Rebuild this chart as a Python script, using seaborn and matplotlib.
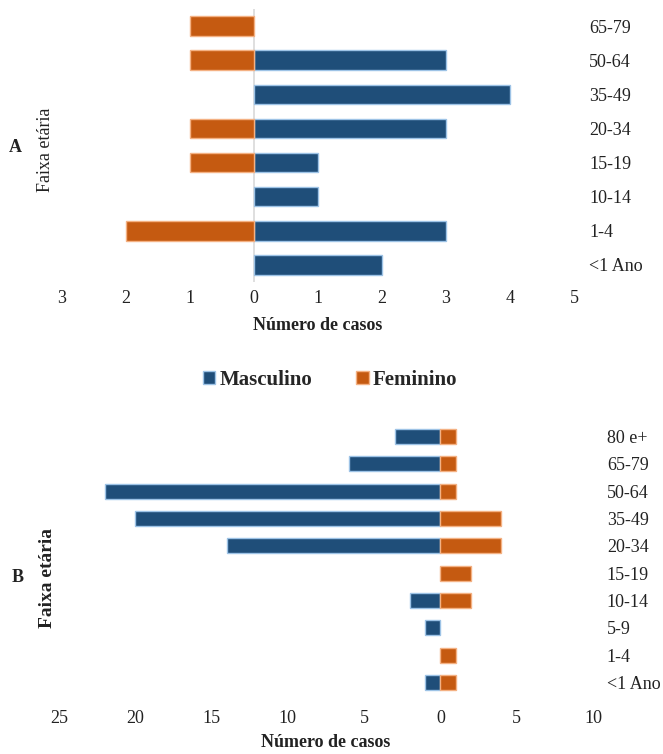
import matplotlib
matplotlib.use("Agg")
import matplotlib.pyplot as plt
import matplotlib.ticker as mticker
from matplotlib.patches import Patch
import seaborn as sns
import pandas as pd

sns.set_theme(style="white")
plt.rcParams['font.family'] = ['Liberation Serif', 'DejaVu Serif']

# ---- data ----
faixas_a = ["65-79", "50-64", "35-49", "20-34", "15-19", "10-14", "1-4", "<1 Ano"]
masc_a = [0, 3, 4, 3, 1, 1, 3, 2]
fem_a = [1, 1, 0, 1, 1, 0, 2, 0]

faixas_b = ["80 e+", "65-79", "50-64", "35-49", "20-34", "15-19", "10-14", "5-9", "1-4", "<1 Ano"]
masc_b = [3, 6, 22, 20, 14, 0, 2, 1, 0, 1]
fem_b = [1, 1, 1, 4, 4, 2, 2, 0, 1, 1]

ticks_a = [-3, -2, -1, 0, 1, 2, 3, 4, 5]
ticks_b = [-25, -20, -15, -10, -5, 0, 5, 10]

BLUE = "#1F4E79"
ORANGE = "#C55A11"
BLUE_EDGE = "#9DC3E6"
ORANGE_EDGE = "#F4B183"

fig = plt.figure(figsize=(6.63, 7.54), dpi=100)

def long_df(faixas, masc, fem, masc_sign, fem_sign):
    rows = []
    for f, m, w in zip(faixas, masc, fem):
        rows.append({"faixa": f, "valor": masc_sign * m, "sexo": "Masculino"})
        rows.append({"faixa": f, "valor": fem_sign * w, "sexo": "Feminino"})
    return pd.DataFrame(rows)

def draw(ax, df, faixas, ticks, bar_w, zero_line, tick_pad, label_pad, ypad):
    sns.barplot(data=df, y="faixa", x="valor", hue="sexo", order=faixas,
                hue_order=["Masculino", "Feminino"],
                palette={"Masculino": BLUE, "Feminino": ORANGE},
                dodge=False, width=bar_w, orient="h", ax=ax, legend=False,
                saturation=1, linewidth=1.0)
    blue_r = int(BLUE[1:3], 16) / 255
    for p in ax.patches:
        if abs(p.get_width()) < 1e-9:
            p.set_visible(False)
            continue
        fc = p.get_facecolor()
        p.set_edgecolor(BLUE_EDGE if abs(fc[0] - blue_r) < 0.05 else ORANGE_EDGE)
    ax.set_xlim(ticks[0], ticks[-1])
    ax.set_ylim(len(faixas) - 0.5, -0.5)
    ax.set_xticks(ticks)
    ax.xaxis.set_major_formatter(mticker.FuncFormatter(lambda v, p: f"{abs(int(round(v)))}"))
    ax.yaxis.tick_right()
    ax.tick_params(axis="both", length=0, labelsize=13, colors="#222222")
    ax.tick_params(axis="x", pad=tick_pad)
    ax.tick_params(axis="y", pad=ypad)
    for s in ax.spines.values():
        s.set_visible(False)
    if zero_line:
        ax.axvline(0, color="#D9D9D9", lw=1.2, zorder=0.5)
    ax.set_ylabel("")
    ax.set_xlabel("Número de casos", fontsize=13, fontweight="bold", color="#222222", labelpad=label_pad)
    ax.grid(False)

# Panel A: feminino left, masculino right
axA = fig.add_axes([62 / 663, 1 - 282 / 754, 512 / 663, 273 / 754])
dfA = long_df(faixas_a, masc_a, fem_a, 1, -1)
draw(axA, dfA, faixas_a, ticks_a, 0.57, True, 6, 7, 11)

# Panel B: masculino left, feminino right
axB = fig.add_axes([59 / 663, 1 - 696 / 754, 534 / 663, 273 / 754])
dfB = long_df(faixas_b, masc_b, fem_b, -1, 1)
draw(axB, dfB, faixas_b, ticks_b, 0.55, False, 10, 5, 10)

fig.text(15 / 663, 1 - 148 / 754, "A", fontsize=13, fontweight="bold", ha="center", va="center", color="#222222")
fig.text(45 / 663, 1 - 150 / 754, "Faixa etária", fontsize=13, rotation=90, ha="center", va="center", color="#222222")
fig.text(18 / 663, 1 - 577 / 754, "B", fontsize=13, fontweight="bold", ha="center", va="center", color="#222222")
fig.text(47 / 663, 1 - 578 / 754, "Faixa etária", fontsize=14, fontweight="bold", rotation=90, ha="center", va="center", color="#222222")

handles = [Patch(facecolor=BLUE, edgecolor=BLUE_EDGE, label="Masculino"),
           Patch(facecolor=ORANGE, edgecolor=ORANGE_EDGE, label="Feminino")]
fig.legend(handles=handles, loc="center", bbox_to_anchor=(330 / 663, 1 - 380 / 754), ncol=2,
           frameon=False, prop={"family": "Liberation Serif", "weight": "bold", "size": 15},
           handlelength=0.6, handleheight=0.6, handletextpad=0.2, columnspacing=2.1)

fig.savefig("out.png", dpi=100)
